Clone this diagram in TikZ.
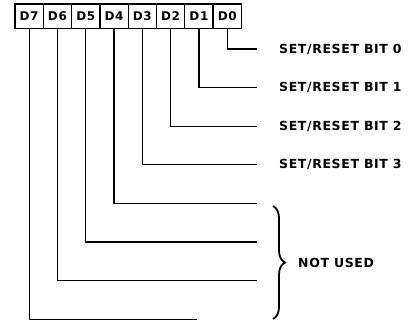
\documentclass[tikz,border=0pt]{standalone}
\usepackage{fontspec}
\setmainfont{DejaVu Sans}
\newfontfamily\bitfont[LetterSpace=5]{DejaVu Sans}
\usetikzlibrary{decorations.pathreplacing}
\tikzset{
  bitbox/.style={draw, line width=1.3pt, minimum width=28.3pt, minimum height=24.5pt,
    inner sep=0pt, font=\bitfont\bfseries\fontsize{12}{14}\selectfont},
  wire/.style={line width=1.2pt},
  bitlabel/.style={anchor=west, inner sep=0pt, font=\bitfont\bfseries\fontsize{12.5}{15}\selectfont}
}
\begin{document}
\begin{tikzpicture}[x=1pt,y=-1pt]
\useasboundingbox (0,0) rectangle (412,321);
% register boxes
\foreach \i in {0,...,7}
  \node[bitbox] (d\i) at ({29.15+28.3*(7-\i)},16.25) {D\i};
% line ends
\foreach \i in {0,...,6}
  \coordinate (e\i) at (257,{49+38.6*\i});
\coordinate (e7) at (197,319.2);
\foreach \i in {0,...,7}
  \draw[wire] (d\i.south) |- (e\i);
% labels
\foreach \i in {0,...,3}
  \node[bitlabel] (s\i) at (279,{49+38.6*\i}) {SET/RESET BIT \i};
\coordinate (b1) at (273,206);
\coordinate (b2) at (273,319);
\draw[line width=1.8pt, decorate, decoration={brace, amplitude=12pt}] (b1) -- (b2);
\node[bitlabel] (nu) at (298,263) {NOT USED};
\end{tikzpicture}
\end{document}
